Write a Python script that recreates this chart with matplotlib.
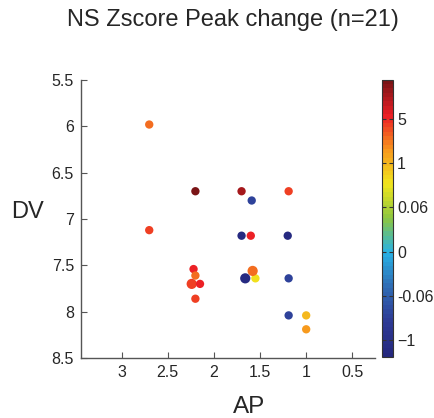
#!/usr/bin/env python3
"""Scatter of recording sites (AP vs DV) coloured by NS z-score peak change."""

import matplotlib

matplotlib.use("Agg")
import matplotlib.pyplot as plt
import numpy as np
from matplotlib.colors import FuncNorm, LinearSegmentedColormap

# site coordinates and peak change per unit
ap = [2.70, 2.70, 2.20, 1.70, 1.59, 1.19, 1.70, 1.60, 1.20, 2.22, 2.20,
      2.24, 2.15, 2.20, 1.66, 1.55, 1.58, 1.19, 1.19, 1.00, 1.00]
dv = [5.98, 7.12, 6.70, 6.70, 6.80, 6.70, 7.18, 7.18, 7.18, 7.54, 7.61,
      7.70, 7.70, 7.86, 7.64, 7.64, 7.56, 7.64, 8.04, 8.04, 8.19]
peak_change = [3.3, 4.3, 8.3, 7.3, -0.47, 4.3, -1.19, 5.4, -1.19, 5.4, 3.3,
               4.3, 5.4, 4.3, -1.19, 0.6, 3.3, -0.47, -0.47, 0.95, 2.0]
big = [False] * 11 + [True, False, False, True, False, True, False, False, False, False]

# colorbar labels sit at even spacing, values are not linear
cbar_ticks = [-1, -0.06, 0, 0.06, 1, 5]
cbar_knots = [-1.36, -1, -0.06, 0, 0.06, 1, 5, 8.56]
knot_pos = [-0.385, 0, 1, 2, 3, 4, 5, 5.89]


def forward(v):
    return np.interp(v, cbar_knots, knot_pos)


def inverse(p):
    return np.interp(p, knot_pos, cbar_knots)


norm = FuncNorm((forward, inverse), vmin=cbar_knots[0], vmax=cbar_knots[-1])

# jet as it comes out of a print export: muted ends
jet_print = LinearSegmentedColormap.from_list(
    "jet_print",
    [(0.0, "#25287e"), (0.125, "#2e3b96"), (0.25, "#2f6cb4"), (0.375, "#27b2e6"),
     (0.5, "#8cc640"), (0.625, "#f1e61d"), (0.75, "#f7971d"), (0.875, "#ec1e25"),
     (1.0, "#7a1416")],
    N=64,
)

plt.rcParams["font.family"] = ["Liberation Sans", "DejaVu Sans"]
text_color = "#262626"

fig = plt.figure(figsize=(4.35, 4.18), dpi=100)
ax = fig.add_axes([0.186, 0.1435, 0.676, 0.665])
cax = fig.add_axes([0.879, 0.146, 0.024, 0.663])

sizes = [54 if b else 36 for b in big]
sc = ax.scatter(ap, dv, c=peak_change, cmap=jet_print, norm=norm, s=sizes,
                edgecolors="none", zorder=3)

ax.set_xlim(3.44, 0.255)
ax.set_ylim(8.5, 5.5)
ax.set_xticks([3, 2.5, 2, 1.5, 1, 0.5])
ax.set_xticklabels(["3", "2.5", "2", "1.5", "1", "0.5"])
ax.set_yticks([5.5, 6, 6.5, 7, 7.5, 8, 8.5])
ax.set_yticklabels(["5.5", "6", "6.5", "7", "7.5", "8", "8.5"])
for side in ("top", "right"):
    ax.spines[side].set_visible(False)
for side in ("left", "bottom"):
    ax.spines[side].set_color("#555555")
    ax.spines[side].set_linewidth(1.0)
ax.tick_params(direction="in", length=4, width=0.8, color="#555555",
               labelsize=11.5, labelcolor=text_color)
ax.tick_params(axis="x", pad=5)
ax.tick_params(axis="y", pad=5)

ax.set_xlabel("AP", fontsize=17.5, color=text_color)
ax.xaxis.set_label_coords(0.571, -0.138)
ax.set_ylabel("DV", fontsize=17, color=text_color, rotation=0,
              ha="center", va="center")
ax.yaxis.set_label_coords(-0.182, 0.527)
fig.text(0.536, 1 - 26 / 418, "NS Zscore Peak change (n=21)", fontsize=17,
         color=text_color, ha="center", va="baseline")

cb = fig.colorbar(sc, cax=cax, ticks=cbar_ticks)
cb.set_ticklabels(["\u22121", "-0.06", "0", "0.06", "1", "5"])
cb.outline.set_edgecolor("#333333")
cb.outline.set_linewidth(0.8)
cax.tick_params(direction="in", length=3, width=0.8, color="#333333",
                labelsize=11.5, labelcolor=text_color, pad=3,
                left=True, right=True)

fig.savefig("out.png", dpi=100)
